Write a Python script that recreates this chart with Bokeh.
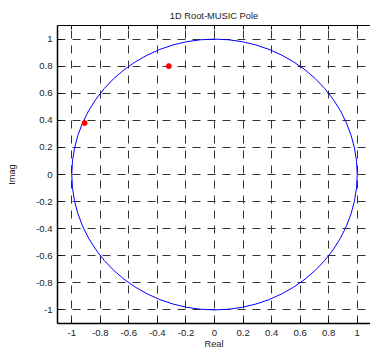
from bokeh.plotting import figure
from bokeh.models import Range1d, FixedTicker, LinearAxis
from bokeh.embed import file_html
from bokeh.resources import INLINE

# data
pole_re = [-0.32, -0.91]
pole_im = [0.80, 0.38]
circle_cx = [0.0]
circle_cy = [0.0]
circle_diam = [2.0]
ticks = [-1.0, -0.8, -0.6, -0.4, -0.2, 0.0, 0.2, 0.4, 0.6, 0.8, 1.0]
tick_labels = ["-1", "-0.8", "-0.6", "-0.4", "-0.2", "0", "0.2", "0.4", "0.6", "0.8", "1"]

FONT = "Liberation Sans"

p = figure(width=370, height=351,
           x_range=Range1d(-1.1, 1.093), y_range=Range1d(-1.1, 1.1),
           output_backend="svg", toolbar_location=None,
           x_axis_label="Real", y_axis_label="Imag",
           title="1D Root-MUSIC Pole",
           min_border_left=57, min_border_right=0, min_border_top=25, min_border_bottom=28)
p.outline_line_color = None
p.background_fill_color = "white"
p.border_fill_color = "white"

p.title.align = "center"
p.title.text_font = FONT
p.title.text_font_size = "9.3px"
p.title.text_font_style = "normal"
p.title.text_color = "#222222"
p.title.standoff = 10

overrides = {t: l for t, l in zip(ticks, tick_labels)}
for ax in (p.xaxis[0], p.yaxis[0]):
    ax.ticker = FixedTicker(ticks=ticks)
    ax.major_label_overrides = overrides
    ax.major_label_text_font = FONT
    ax.major_label_text_font_size = "9.6px"
    ax.major_label_text_color = "#222222"
    ax.axis_label_text_font = FONT
    ax.axis_label_text_font_size = "9.2px"
    ax.axis_label_text_font_style = "normal"
    ax.axis_label_text_color = "#222222"
    ax.major_tick_in = 4
    ax.major_tick_out = 0
    ax.minor_tick_in = 0
    ax.minor_tick_out = 0
    ax.axis_line_color = "black"
    ax.axis_line_width = 1.5
    ax.major_tick_line_color = "black"

p.xaxis[0].major_label_standoff = 6
p.xaxis[0].axis_label_standoff = 0
p.yaxis[0].major_label_standoff = 5
p.yaxis[0].axis_label_standoff = 16

top = LinearAxis(ticker=FixedTicker(ticks=ticks),
                 major_label_overrides={t: "" for t in ticks},
                 major_tick_in=4, major_tick_out=0, minor_tick_in=0, minor_tick_out=0,
                 axis_line_color="black", axis_line_width=1.0, major_label_standoff=0)
p.add_layout(top, "above")

for g in (p.xgrid[0], p.ygrid[0]):
    g.ticker = FixedTicker(ticks=ticks)
    g.grid_line_color = "#333333"
    g.grid_line_dash = "8 7"
    g.grid_line_width = 1

p.ellipse(x=circle_cx, y=circle_cy, width=circle_diam, height=circle_diam,
          fill_color=None, line_color="#0000ff", line_width=1)
p.scatter(x=pole_re, y=pole_im, size=5, fill_color="red", line_color="red")

open("out.html", "w").write(file_html(p, INLINE))
